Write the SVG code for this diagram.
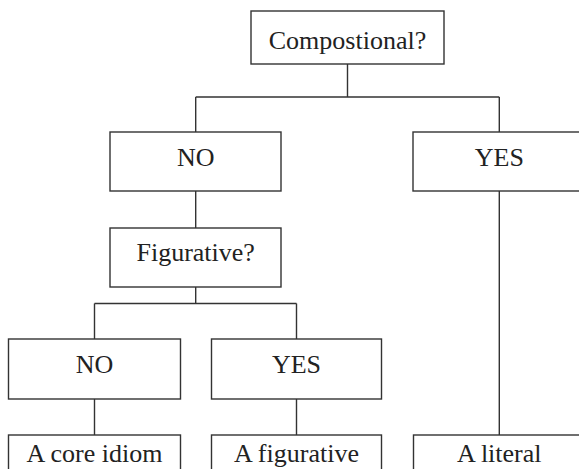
<svg xmlns="http://www.w3.org/2000/svg" width="579" height="469" viewBox="0 0 579 469">
<style>
.box{fill:#fff;stroke:#333;stroke-width:1.4}
.lbl{font-family:"Liberation Serif","Times New Roman",serif;font-size:26px;fill:#222;text-anchor:middle}
.conn{fill:none;stroke:#333;stroke-width:1.4}
</style>
<rect width="579" height="469" fill="#fff"/>
<g id="connectors">
<path class="conn" d="M347.5 64V97M195.7 97H499.3M195.7 97V132M499.3 97V132"/>
<path class="conn" d="M195.7 191V228"/>
<path class="conn" d="M195.7 287V303.5M94.5 303.5H296.5M94.5 303.5V339M296.5 303.5V339"/>
<path class="conn" d="M94.5 399V435M296.5 399V435"/>
<path class="conn" d="M499.3 191V435"/>
</g>
<g id="n-compositional"><rect class="box" x="251" y="11" width="193" height="53"/><text class="lbl" x="347.5" y="48.5">Compostional?</text></g>
<g id="n-no1"><rect class="box" x="110" y="132" width="171" height="59"/><text class="lbl" x="195.7" y="166">NO</text></g>
<g id="n-yes1"><rect class="box" x="413" y="132" width="173" height="59"/><text class="lbl" x="499.3" y="166">YES</text></g>
<g id="n-figurative"><rect class="box" x="110" y="228" width="171" height="59"/><text class="lbl" x="195.7" y="261">Figurative?</text></g>
<g id="n-no2"><rect class="box" x="8.5" y="339" width="172" height="60"/><text class="lbl" x="94.5" y="373">NO</text></g>
<g id="n-yes2"><rect class="box" x="211.5" y="339" width="170" height="60"/><text class="lbl" x="296.5" y="373">YES</text></g>
<g id="n-core"><rect class="box" x="8.5" y="435" width="172" height="60"/><text class="lbl" x="94.5" y="462">A core idiom</text></g>
<g id="n-figurative-idiom"><rect class="box" x="211.5" y="435" width="170" height="60"/><text class="lbl" x="296.5" y="462">A figurative</text></g>
<g id="n-literal"><rect class="box" x="413.5" y="435" width="173" height="60"/><text class="lbl" x="499.3" y="462">A literal</text></g>
</svg>
